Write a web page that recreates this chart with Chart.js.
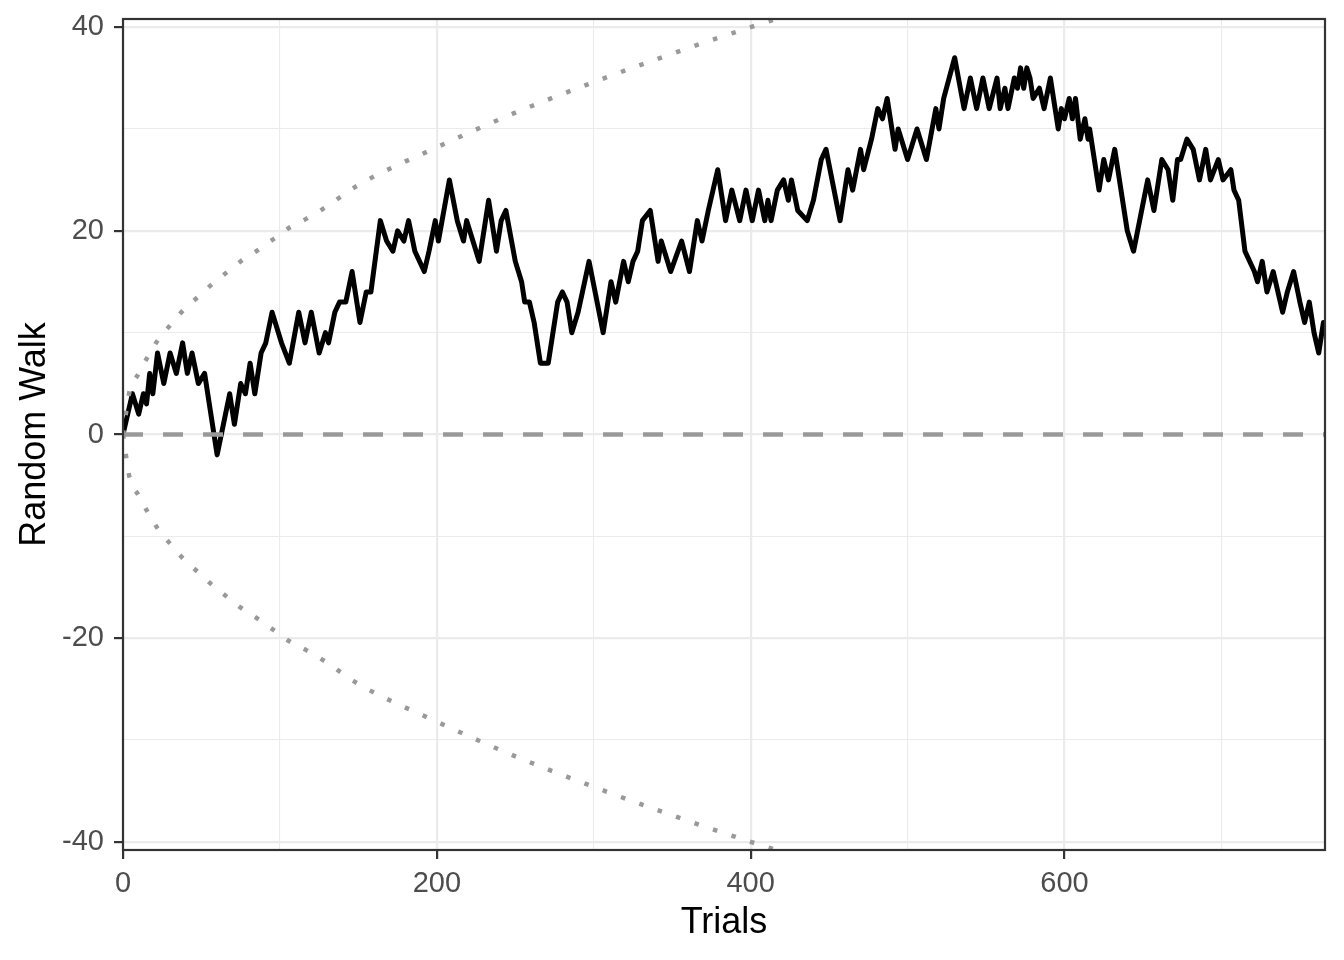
<!DOCTYPE html>
<html>
<head>
<meta charset="utf-8">
<script src="https://cdn.jsdelivr.net/npm/chart.js@4/dist/chart.umd.min.js"></script>
<style>
  body { margin: 0; background: #fff; }
  #wrap { width: 1344px; height: 960px; }
</style>
</head>
<body>
<div id="wrap"><canvas id="walkChart"></canvas></div>
<script>
// turning points of the random walk
const walkTrials = [0, 6, 10, 13, 15, 17, 19, 22, 26, 30, 34, 38, 41, 44, 48, 52, 60, 64, 68, 71, 75, 78, 81, 84, 88, 91, 95, 101, 106, 112, 116, 120, 125, 129, 131, 135, 138, 142, 146, 151, 155, 158, 164, 168, 172, 175, 179, 182, 186, 192, 195, 199, 201, 208, 213, 217, 219, 223, 227, 233, 238, 241, 244, 250, 254, 256, 259, 262, 266, 271, 277, 280, 283, 286, 290, 297, 306, 311, 314, 319, 322, 325, 328, 331, 336, 341, 343, 349, 356, 361, 366, 369, 373, 379, 384, 388, 393, 397, 401, 405, 409, 411, 413, 417, 421, 424, 426, 430, 436, 440, 445, 448, 457, 462, 465, 470, 472, 477, 481, 484, 487, 492, 494, 500, 506, 512, 518, 520, 523, 530, 536, 540, 544, 548, 552, 557, 559, 562, 564, 568, 570, 572, 574, 576, 578, 580, 584, 587, 591, 596, 598, 600, 603, 605, 607, 610, 613, 615, 616, 622, 625, 628, 632, 640, 644, 653, 657, 662, 666, 669, 672, 674, 678, 682, 686, 690, 693, 698, 701, 706, 708, 711, 715, 721, 723, 726, 729, 733, 739, 742, 746, 750, 753, 756, 759, 762, 765];
const walkValues = [0, 4, 2, 4, 3, 6, 4, 8, 5, 8, 6, 9, 6, 8, 5, 6, -2, 1, 4, 1, 5, 4, 7, 4, 8, 9, 12, 9, 7, 12, 9, 12, 8, 10, 9, 12, 13, 13, 16, 11, 14, 14, 21, 19, 18, 20, 19, 21, 18, 16, 18, 21, 19, 25, 21, 19, 21, 19, 17, 23, 18, 21, 22, 17, 15, 13, 13, 11, 7, 7, 13, 14, 13, 10, 12, 17, 10, 15, 13, 17, 15, 17, 18, 21, 22, 17, 19, 16, 19, 16, 21, 19, 22, 26, 21, 24, 21, 24, 21, 24, 21, 23, 21, 24, 25, 23, 25, 22, 21, 23, 27, 28, 21, 26, 24, 28, 26, 29, 32, 31, 33, 28, 30, 27, 30, 27, 32, 30, 33, 37, 32, 35, 32, 35, 32, 35, 32, 34, 32, 35, 34, 36, 34, 36, 35, 33, 34, 32, 35, 30, 32, 31, 33, 31, 33, 29, 31, 29, 30, 24, 27, 25, 28, 20, 18, 25, 22, 27, 26, 23, 27, 27, 29, 28, 25, 28, 25, 27, 25, 26, 24, 23, 18, 16, 15, 17, 14, 16, 12, 14, 16, 13, 11, 13, 10, 8, 11];

// dotted envelope
const boundTrials = [0, 2, 4, 10, 16, 22, 31, 39, 47, 57, 66, 75, 86, 96, 106, 117, 128, 150, 200, 250, 300, 350, 400, 450];
const upperBound = [0, 2.2, 4.1, 6, 7.7, 9.2, 10.9, 12.3, 13.4, 14.8, 15.9, 17, 18.1, 19.2, 20.3, 21.2, 22.2, 24.5, 28.2, 31.6, 34.6, 37.4, 40, 42.4];
const lowerBound = [0, -2.2, -4.1, -6, -7.7, -9.2, -10.9, -12.3, -13.4, -14.8, -15.9, -17, -18.1, -19.2, -20.3, -21.2, -22.2, -24.5, -28.2, -31.6, -34.6, -37.4, -40, -42.4];

const xMajorTicks = [0, 200, 400, 600];
const xMinorTicks = [100, 300, 500, 700];
const yMajorTicks = [-40, -20, 0, 20, 40];
const yMinorTicks = [-30, -10, 10, 30];

const xMax = 766;
const yMin = -40.8, yMax = 40.8;

const FONT = '"Liberation Sans", Arial, sans-serif';

function pairs(xs, ys) {
    return xs.map((x, i) => ({ x: x, y: ys[i] }));
}

// panel border like theme_bw
const panelBorder = {
    id: 'panelBorder',
    afterDatasetsDraw(chart) {
        const a = chart.chartArea;
        const ctx = chart.ctx;
        ctx.save();
        ctx.strokeStyle = '#333333';
        ctx.lineWidth = 2.2;
        ctx.strokeRect(a.left, a.top, a.right - a.left, a.bottom - a.top);
        ctx.restore();
    }
};

function gridOpts(majors) {
    return {
        color: '#EBEBEB',
        lineWidth: c => majors.includes(c.tick.value) ? 2.2 : 1.1,
        drawTicks: true,
        tickLength: 9,
        tickWidth: 2.2,
        tickColor: c => majors.includes(c.tick.value) ? '#333333' : 'rgba(0,0,0,0)'
    };
}

const ctx = document.getElementById('walkChart').getContext('2d');
new Chart(ctx, {
    type: 'line',
    data: {
        datasets: [
            {
                label: 'zero',
                data: [{ x: 0, y: 0 }, { x: xMax, y: 0 }],
                borderColor: '#999999',
                borderWidth: 4.5,
                borderDash: [20, 20],
                pointRadius: 0
            },
            {
                label: 'upper',
                data: pairs(boundTrials, upperBound),
                borderColor: '#999999',
                borderWidth: 4.5,
                borderDash: [4.5, 15],
                cubicInterpolationMode: 'monotone',
                pointRadius: 0
            },
            {
                label: 'lower',
                data: pairs(boundTrials, lowerBound),
                borderColor: '#999999',
                borderWidth: 4.5,
                borderDash: [4.5, 15],
                cubicInterpolationMode: 'monotone',
                pointRadius: 0
            },
            {
                label: 'walk',
                data: pairs(walkTrials, walkValues),
                borderColor: '#000000',
                borderWidth: 5,
                borderJoinStyle: 'round',
                borderCapStyle: 'round',
                tension: 0,
                pointRadius: 0
            }
        ]
    },
    options: {
        responsive: true,
        maintainAspectRatio: false,
        animation: false,
        layout: { padding: { top: 19, right: 19, left: 0, bottom: 0 } },
        plugins: {
            legend: { display: false },
            tooltip: { enabled: false }
        },
        scales: {
            x: {
                type: 'linear',
                min: 0,
                max: xMax,
                afterBuildTicks: s => { s.ticks = xMajorTicks.concat(xMinorTicks).sort((a, b) => a - b).map(v => ({ value: v })); },
                afterFit: s => { s.height = 110; s.paddingLeft = 0; s.paddingRight = 0; },
                grid: gridOpts(xMajorTicks),
                border: { display: false },
                ticks: {
                    autoSkip: false,
                    maxRotation: 0,
                    padding: 8,
                    color: '#4D4D4D',
                    font: { family: FONT, size: 29 },
                    callback: v => xMajorTicks.includes(v) ? String(v) : ''
                },
                title: {
                    display: true,
                    text: 'Trials',
                    color: '#000000',
                    font: { family: FONT, size: 36, lineHeight: 1.2 },
                    padding: { top: 0, bottom: 15 }
                }
            },
            y: {
                type: 'linear',
                min: yMin,
                max: yMax,
                afterBuildTicks: s => { s.ticks = yMajorTicks.concat(yMinorTicks).sort((a, b) => a - b).map(v => ({ value: v })); },
                afterFit: s => { s.width = 123; s.paddingTop = 0; s.paddingBottom = 0; },
                grid: gridOpts(yMajorTicks),
                border: { display: false },
                ticks: {
                    autoSkip: false,
                    padding: 10,
                    color: '#4D4D4D',
                    font: { family: FONT, size: 29 },
                    callback: v => yMajorTicks.includes(v) ? String(v) : ''
                },
                title: {
                    display: true,
                    text: 'Random Walk',
                    color: '#000000',
                    font: { family: FONT, size: 36, lineHeight: 1.2 },
                    padding: { top: 13, bottom: 0 }
                }
            }
        }
    },
    plugins: [panelBorder]
});
</script>
</body>
</html>
